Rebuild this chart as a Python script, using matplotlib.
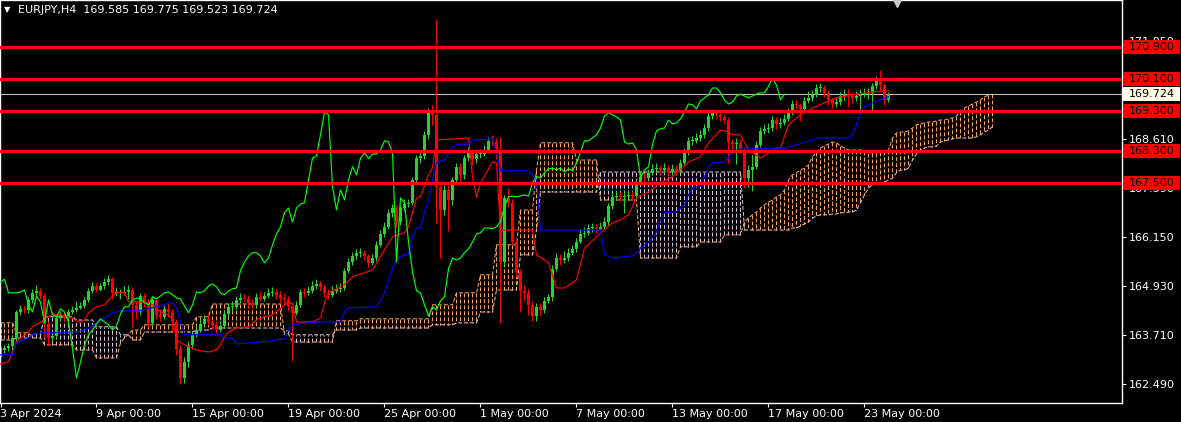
import numpy as np
import matplotlib
matplotlib.use("Agg")
import matplotlib.pyplot as plt
from matplotlib.patches import Rectangle
from matplotlib.transforms import blended_transform_factory

# EURJPY H4 with Ichimoku, 3 Apr - 23 May 2024
symbol = "EURJPY,H4"
last_bar = [169.585, 169.775, 169.523, 169.724]   # O H L C of the current bar
first_open = 163.21

closes = [
    163.33, 163.38, 163.43, 163.63, 164.28, 164.36, 164.33, 164.58, 164.76, 164.81,
    164.68, 163.98, 163.63, 163.68, 164.13, 164.21, 164.13, 164.28, 164.33, 164.38,
    164.43, 164.58, 164.81, 164.93, 164.83, 164.93, 165.03, 165.10, 164.76, 164.76,
    164.76, 164.78, 164.83, 164.46, 164.28, 164.68, 164.53, 164.01, 164.58, 164.21,
    164.16, 164.36, 164.28, 164.03, 163.36, 162.63, 163.03, 163.46, 163.71, 163.83,
    163.98, 164.11, 164.03, 163.96, 163.83, 163.93, 164.23, 164.41, 164.41, 164.58,
    164.63, 164.61, 164.51, 164.46, 164.66, 164.61, 164.68, 164.76, 164.78, 164.71,
    164.63, 164.61, 164.43, 164.26, 164.46, 164.78, 164.76, 164.81, 164.93, 164.98,
    164.91, 164.76, 164.71, 164.81, 164.86, 164.88, 165.31, 165.53, 165.68, 165.76,
    165.76, 165.68, 165.51, 165.63, 165.96, 166.23, 166.41, 166.76, 166.88, 166.53,
    166.88, 166.98, 167.01, 167.58, 168.13, 168.18, 168.71, 169.28, 169.21, 167.41,
    166.83, 167.33, 167.08, 167.58, 167.91, 167.71, 168.13, 168.26, 168.11, 168.23,
    168.23, 168.33, 168.56, 168.53, 168.26, 165.53, 167.13, 167.01, 166.03, 165.28,
    164.81, 164.76, 164.46, 164.18, 164.41, 164.33, 164.56, 164.66, 165.36, 165.63,
    165.58, 165.63, 165.76, 165.86, 166.03, 166.23, 166.26, 166.38, 166.38, 166.36,
    166.41, 166.53, 166.93, 167.16, 167.18, 167.16, 167.18, 167.21, 167.18, 167.51,
    167.66, 167.63, 167.76, 167.86, 167.88, 167.83, 167.88, 167.78, 167.86, 167.81,
    168.01, 168.28, 168.56, 168.56, 168.63, 168.71, 168.88, 169.18, 169.26, 169.21,
    169.16, 169.08, 168.53, 168.48, 168.51, 168.33, 167.63, 167.83, 167.91, 168.46,
    168.81, 168.86, 168.88, 169.08, 168.98, 169.01, 169.11, 169.28, 169.48, 169.46,
    169.36, 169.56, 169.63, 169.71, 169.88, 169.88, 169.76, 169.58, 169.48, 169.53,
    169.68, 169.73, 169.68, 169.63, 169.68, 169.73, 169.76, 169.76, 169.92, 170.12,
    169.95, 169.585, 169.724,
]

highs = [
    163.40, 163.45, 163.50, 163.70, 164.33, 164.45, 164.42, 164.65, 164.85, 164.95,
    164.88, 164.75, 164.05, 163.80, 164.20, 164.30, 164.28, 164.35, 164.42, 164.55,
    164.52, 164.65, 164.88, 165.02, 165.00, 165.00, 165.12, 165.20, 165.15, 164.90,
    164.85, 164.92, 164.95, 164.90, 164.55, 164.75, 164.75, 164.60, 164.65, 164.62,
    164.35, 164.45, 164.48, 164.35, 164.10, 163.45, 163.15, 163.55, 163.80, 163.92,
    164.10, 164.20, 164.25, 164.10, 164.05, 164.05, 164.30, 164.50, 164.55, 164.68,
    164.75, 164.72, 164.70, 164.60, 164.75, 164.80, 164.78, 164.88, 164.90, 164.85,
    164.80, 164.75, 164.68, 164.50, 164.55, 164.85, 164.88, 164.92, 165.05, 165.10,
    165.05, 164.98, 164.85, 164.92, 164.98, 165.00, 165.38, 165.62, 165.78, 165.85,
    165.88, 165.82, 165.72, 165.72, 166.05, 166.32, 166.52, 166.85, 166.98, 166.95,
    166.95, 167.10, 167.10, 167.65, 168.20, 168.30, 168.80, 169.38, 169.45, 171.60,
    167.50, 167.45, 167.45, 167.65, 168.00, 168.00, 168.20, 168.40, 168.35, 168.35,
    168.35, 168.45, 168.65, 168.70, 168.62, 168.65, 167.20, 167.38, 167.10, 166.10,
    165.35, 164.95, 164.85, 164.55, 164.50, 164.50, 164.65, 164.72, 165.45, 165.75,
    165.72, 165.80, 165.88, 165.95, 166.12, 166.35, 166.40, 166.48, 166.50, 166.48,
    166.52, 166.65, 167.00, 167.25, 167.30, 167.28, 167.30, 167.32, 167.30, 167.60,
    167.78, 167.75, 167.85, 167.98, 168.00, 167.95, 168.00, 167.95, 167.98, 167.95,
    168.10, 168.38, 168.65, 168.68, 168.75, 168.82, 168.98, 169.28, 169.35, 169.32,
    169.28, 169.22, 169.15, 168.60, 168.62, 168.60, 168.40, 167.95, 168.20, 168.55,
    168.90, 168.98, 169.00, 169.18, 169.15, 169.12, 169.22, 169.38, 169.58, 169.58,
    169.50, 169.65, 169.80, 169.82, 169.98, 170.00, 169.95, 169.82, 169.62, 169.65,
    169.78, 169.85, 169.85, 169.78, 169.80, 169.85, 169.88, 169.88, 170.00, 170.18,
    170.33, 170.00, 169.775,
]

lows = [
    163.15, 163.25, 163.30, 163.20, 163.55, 164.20, 164.25, 164.25, 164.50, 164.70,
    164.60, 163.62, 163.45, 163.55, 163.60, 164.05, 164.05, 164.08, 164.22, 164.28,
    164.35, 164.38, 164.52, 164.75, 164.78, 164.80, 164.85, 164.95, 164.60, 164.68,
    164.60, 164.70, 164.60, 163.90, 164.10, 164.20, 164.40, 163.90, 163.95, 164.10,
    164.05, 164.10, 164.15, 163.80, 163.20, 162.48, 162.50, 162.90, 163.35, 163.65,
    163.78, 163.90, 163.95, 163.85, 163.75, 163.78, 163.88, 164.15, 164.30, 164.35,
    164.50, 164.52, 164.40, 164.35, 164.40, 164.55, 164.55, 164.62, 164.68, 164.60,
    164.50, 164.45, 164.30, 163.05, 164.20, 164.40, 164.65, 164.70, 164.75, 164.85,
    164.80, 164.65, 164.60, 164.65, 164.75, 164.78, 164.82, 165.25, 165.45, 165.60,
    165.65, 165.58, 165.40, 165.45, 165.55, 165.90, 166.15, 166.35, 166.65, 166.40,
    166.45, 166.80, 166.90, 166.95, 167.50, 168.00, 168.10, 168.60, 168.95, 166.50,
    165.63, 166.70, 166.30, 166.95, 167.50, 167.50, 167.60, 168.05, 167.95, 168.00,
    168.12, 168.18, 168.25, 168.45, 168.10, 164.00, 165.40, 166.90, 165.95, 165.15,
    164.28, 164.55, 164.20, 164.05, 164.05, 164.20, 164.25, 164.50, 164.55, 165.30,
    165.45, 165.50, 165.55, 165.70, 165.78, 166.00, 166.15, 166.20, 166.28, 166.25,
    166.30, 166.35, 166.45, 166.85, 167.08, 167.05, 166.76, 167.10, 167.08, 167.10,
    167.45, 167.52, 167.58, 167.70, 167.78, 167.72, 167.75, 167.68, 167.70, 167.70,
    167.75, 167.95, 168.20, 168.45, 168.50, 168.55, 168.62, 168.80, 169.10, 169.10,
    169.05, 168.98, 168.00, 168.35, 167.98, 168.25, 167.38, 167.40, 167.30, 167.85,
    168.40, 168.72, 168.75, 168.80, 168.85, 168.88, 168.95, 169.05, 169.20, 169.35,
    169.05, 169.30, 169.50, 169.55, 169.65, 169.78, 169.65, 169.45, 169.38, 169.40,
    169.45, 169.55, 169.40, 169.50, 169.55, 169.30, 169.65, 169.60, 169.30, 169.85,
    169.80, 169.45, 169.523,
]

# Tenkan-sen / Kijun-sen, read at the corners of the step lines (bar, price)
tenkan = [
    (0, 162.98), (2, 163.03), (3, 163.28), (4, 163.53), (5, 163.63), (7, 163.78),
    (8, 163.91), (10, 164.03), (12, 164.16), (13, 164.21), (15, 164.21), (17, 164.16),
    (18, 164.11), (20, 164.01), (21, 164.08), (22, 164.26), (24, 164.41), (26, 164.46),
    (27, 164.58), (28, 164.68), (29, 164.76), (31, 164.76), (32, 164.53), (36, 164.53),
    (38, 164.46), (40, 164.28), (42, 164.21), (43, 164.08), (44, 163.58), (46, 163.46),
    (49, 163.33), (52, 163.28), (54, 163.33), (55, 163.46), (56, 163.66), (57, 163.78),
    (59, 163.88), (62, 163.91), (64, 164.08), (66, 164.16), (68, 164.21), (70, 164.38),
    (72, 164.53), (73, 164.48), (74, 164.03), (78, 164.03), (80, 164.13), (81, 164.51),
    (82, 164.76), (86, 164.96), (88, 165.16), (93, 165.33), (96, 165.83), (98, 166.16),
    (101, 166.26), (102, 166.41), (104, 167.13), (105, 167.16), (107, 167.71),
    (108, 167.88), (109, 168.58), (117, 168.63), (118, 167.66), (119, 167.16),
    (120, 167.51), (123, 168.03), (124, 168.01), (125, 166.33), (133, 166.33),
    (134, 165.71), (137, 165.51), (139, 164.88), (141, 164.88), (144, 165.08),
    (146, 165.88), (149, 166.16), (153, 166.51), (155, 166.58), (157, 166.71),
    (159, 167.13), (162, 167.28), (165, 167.51), (168, 167.66), (172, 168.03),
    (175, 168.16), (177, 168.51), (180, 168.83), (182, 168.78), (183, 168.71),
    (185, 168.71), (187, 168.33), (190, 168.13), (194, 168.38), (195, 168.38),
    (197, 168.96), (200, 169.21), (203, 169.38), (206, 169.51), (209, 169.63),
    (213, 169.71), (218, 169.78), (222, 169.81),
]

kijun = [
    (0, 163.21), (3, 163.21), (4, 163.51), (7, 163.63), (8, 163.71), (10, 163.76),
    (19, 163.78), (22, 163.86), (24, 164.01), (28, 164.26), (30, 164.31), (35, 164.31),
    (41, 164.46), (42, 164.51), (43, 164.51), (44, 164.38), (45, 164.03), (46, 163.71),
    (55, 163.71), (56, 163.63), (58, 163.63), (59, 163.48), (68, 163.56), (71, 163.61),
    (72, 163.83), (73, 163.96), (79, 164.03), (85, 164.03), (86, 164.28), (87, 164.38),
    (94, 164.41), (96, 164.76), (97, 165.08), (99, 165.63), (102, 165.73), (103, 166.16),
    (104, 166.38), (105, 166.38), (106, 166.76), (107, 167.08), (108, 167.58),
    (109, 168.01), (111, 168.08), (113, 168.41), (114, 168.46), (117, 168.46),
    (118, 168.58), (123, 168.61), (124, 168.26), (125, 167.81), (132, 167.81),
    (134, 167.58), (135, 166.33), (150, 166.33), (151, 165.71), (153, 165.63),
    (158, 165.68), (161, 165.96), (162, 166.01), (164, 166.28), (165, 166.58),
    (166, 166.76), (169, 166.78), (171, 166.96), (172, 167.21), (173, 167.38),
    (175, 167.43), (176, 167.66), (177, 167.91), (178, 168.01), (181, 168.03),
    (183, 168.26), (185, 168.36), (196, 168.36), (199, 168.46), (203, 168.58),
    (204, 168.63), (212, 168.63), (213, 168.71), (214, 168.96), (215, 169.26),
    (216, 169.41), (218, 169.51), (221, 169.63), (222, 169.66),
]

# Senkou span A / B, one value per bar (the cloud runs 26 bars past the last candle)
span_a = [
    164.01, 164.01, 164.01, 164.01, 163.76, 163.76, 163.76, 163.76, 163.63, 163.63,
    163.63, 163.46, 163.46, 163.46, 163.46, 163.46, 163.46, 163.46, 163.46, 163.33,
    163.33, 163.33, 163.33, 163.33, 163.13, 163.13, 163.13, 163.13, 163.13, 163.13,
    163.51, 163.63, 163.73, 163.83, 163.83, 163.83, 163.96, 163.96, 163.96, 163.96,
    163.96, 163.96, 163.96, 163.96, 163.96, 163.96, 163.96, 163.96, 163.96, 164.16,
    164.16, 164.16, 164.16, 164.48, 164.48, 164.48, 164.48, 164.48, 164.48, 164.48,
    164.48, 164.48, 164.48, 164.48, 164.48, 164.48, 164.48, 164.48, 164.48, 164.48,
    164.48, 163.73, 163.73, 163.53, 163.53, 163.53, 163.53, 163.53, 163.53, 163.53,
    163.53, 163.53, 163.53, 163.53, 164.06, 164.06, 164.06, 164.06, 164.06, 164.06,
    164.11, 164.11, 164.11, 164.11, 164.11, 164.11, 164.11, 164.11, 164.11, 164.11,
    164.11, 164.11, 164.11, 164.11, 164.11, 164.11, 164.11, 164.11, 164.46, 164.46,
    164.46, 164.46, 164.46, 164.46, 164.76, 164.76, 164.76, 164.76, 164.76, 164.76,
    165.21, 165.21, 165.21, 165.21, 165.96, 165.96, 165.96, 165.96, 165.96, 165.96,
    166.83, 166.83, 166.83, 166.83, 167.83, 168.51, 168.51, 168.51, 168.51, 168.51,
    168.51, 168.51, 168.51, 168.51, 168.08, 168.08, 168.08, 168.08, 168.08, 168.08,
    167.08, 167.08, 167.08, 167.08, 167.08, 167.08, 167.08, 167.08, 167.08, 167.08,
    165.63, 165.63, 165.63, 165.63, 165.63, 165.63, 165.63, 165.63, 165.63, 165.63,
    165.91, 165.91, 165.91, 165.91, 165.91, 166.03, 166.03, 166.03, 166.03, 166.03,
    166.03, 166.21, 166.21, 166.21, 166.21, 166.21, 166.53, 166.63, 166.71, 166.78,
    166.88, 166.96, 167.03, 167.08, 167.16, 167.21, 167.33, 167.58, 167.71, 167.76,
    167.83, 167.88, 167.96, 168.16, 168.28, 168.38, 168.43, 168.48, 168.53, 168.51,
    168.43, 168.38, 168.33, 168.33, 168.33, 168.33, 168.31, 168.26, 168.26, 168.26,
    168.28, 168.31, 168.33, 168.63, 168.76, 168.78, 168.78, 168.81, 168.88, 168.96,
    168.98, 169.01, 169.03, 169.03, 169.06, 169.08, 169.08, 169.11, 169.13, 169.18,
    169.31, 169.38, 169.43, 169.48, 169.53, 169.58, 169.66, 169.70, 169.73,
]

span_b = [
    163.58, 163.58, 163.58, 163.58, 163.63, 163.63, 163.63, 163.63, 163.73, 163.73,
    163.73, 164.16, 164.16, 164.16, 164.16, 164.16, 164.16, 164.16, 164.16, 164.08,
    164.08, 164.08, 164.08, 164.08, 163.91, 163.91, 163.91, 163.91, 163.91, 163.91,
    163.71, 163.71, 163.71, 163.58, 163.58, 163.58, 163.78, 163.78, 163.78, 163.78,
    163.78, 163.78, 163.78, 163.78, 163.78, 163.78, 163.78, 163.78, 163.78, 163.83,
    163.83, 163.83, 163.83, 163.88, 163.88, 163.88, 163.88, 163.88, 163.88, 163.88,
    163.88, 163.88, 163.88, 163.88, 163.88, 163.88, 163.88, 163.88, 163.88, 163.88,
    163.88, 163.81, 163.81, 163.71, 163.71, 163.71, 163.71, 163.71, 163.71, 163.71,
    163.71, 163.71, 163.71, 163.71, 163.83, 163.83, 163.83, 163.83, 163.83, 163.83,
    163.88, 163.88, 163.88, 163.88, 163.88, 163.88, 163.88, 163.88, 163.88, 163.88,
    163.88, 163.88, 163.88, 163.88, 163.88, 163.88, 163.88, 163.88, 163.96, 163.96,
    163.96, 163.96, 163.96, 163.96, 164.01, 164.01, 164.01, 164.01, 164.01, 164.01,
    164.28, 164.28, 164.28, 164.28, 164.83, 164.83, 164.83, 164.83, 164.83, 164.83,
    165.71, 165.71, 165.71, 165.71, 166.33, 167.28, 167.28, 167.28, 167.28, 167.28,
    167.28, 167.28, 167.28, 167.28, 167.28, 167.28, 167.28, 167.28, 167.28, 167.28,
    167.78, 167.78, 167.78, 167.78, 167.78, 167.78, 167.78, 167.78, 167.78, 167.78,
    167.78, 167.78, 167.78, 167.78, 167.78, 167.78, 167.78, 167.78, 167.78, 167.78,
    167.78, 167.78, 167.78, 167.78, 167.78, 167.78, 167.78, 167.78, 167.78, 167.78,
    167.78, 167.78, 167.78, 167.78, 167.78, 167.78, 166.33, 166.33, 166.33, 166.33,
    166.33, 166.33, 166.33, 166.33, 166.33, 166.33, 166.33, 166.33, 166.38, 166.38,
    166.43, 166.48, 166.53, 166.63, 166.68, 166.71, 166.71, 166.71, 166.73, 166.73,
    166.76, 166.76, 166.78, 166.78, 166.83, 167.01, 167.21, 167.38, 167.46, 167.48,
    167.51, 167.53, 167.58, 167.63, 167.76, 167.83, 167.83, 167.88, 168.08, 168.23,
    168.33, 168.38, 168.41, 168.41, 168.43, 168.53, 168.56, 168.58, 168.61, 168.63,
    168.63, 168.63, 168.63, 168.63, 168.66, 168.71, 168.78, 168.83, 168.91,
]

chikou_shift = 26

levels = [170.900, 170.100, 169.300, 168.300, 167.500]
price_ticks = [171.050, 169.830, 168.610, 167.390, 166.150, 164.930, 163.710, 162.490]
hidden_ticks = [169.830]   # sits fully under the current-price box
date_ticks = [0, 24, 48, 72, 96, 120, 144, 168, 192, 216]
date_labels = ["3 Apr 2024", "9 Apr 00:00", "15 Apr 00:00", "19 Apr 00:00",
               "25 Apr 00:00", "1 May 00:00", "7 May 00:00", "13 May 00:00",
               "17 May 00:00", "23 May 00:00"]

BULL = "#32CD32"
BEAR = "#FF0000"
SANDY = "#F4A460"
THISTLE = "#D8BFD8"
FG = "#FFFFFF"

closes = np.array(closes)
highs = np.array(highs)
lows = np.array(lows)
opens = np.r_[first_open, closes[:-1]]
idx = np.arange(len(closes))
span_a = np.array(span_a)
span_b = np.array(span_b)
cidx = np.arange(len(span_a))

W, H = 1181, 422
fig = plt.figure(figsize=(W / 100, H / 100), dpi=100, facecolor="black")
ax = fig.add_axes([0, 19 / H, 1122 / W, 403 / H], facecolor="black")
ax.set_xlim(-0.125, 280.375)
ax.set_ylim(162.005, 172.08)

# cloud: dotted vertical hatching between the spans
cloud_col = [SANDY if a >= b else THISTLE for a, b in zip(span_a, span_b)]
ax.vlines(cidx, span_a, span_b, colors=cloud_col, lw=0.75,
          linestyles=(0, (3.8, 1.9)), zorder=1)
ax.plot(cidx, span_a, color=SANDY, lw=0.75, ls=(0, (3.8, 1.9)), zorder=1.1)
ax.plot(cidx, span_b, color=THISTLE, lw=0.75, ls=(0, (3.8, 1.9)), zorder=1.1)

# current price line
ax.axhline(last_bar[3], color="#C0C0C0", lw=0.8, zorder=1.2)

# candles
up = closes >= opens
col = np.where(up, BULL, BEAR)
ax.vlines(idx, lows, highs, colors=col, lw=0.75, zorder=2)
body = np.maximum(np.abs(closes - opens), 0.015)
ax.bar(idx, body, bottom=np.minimum(opens, closes), width=0.75,
       color=col, linewidth=0, zorder=2.1)

# ichimoku lines
tb, tv = zip(*tenkan)
kb, kv = zip(*kijun)
ax.plot(tb, tv, color="#FF0000", lw=0.85, zorder=3)
ax.plot(kb, kv, color="#0000FF", lw=0.85, zorder=3)
ax.plot(idx[chikou_shift:] - chikou_shift, closes[chikou_shift:],
        color="#00FF00", lw=0.85, zorder=3)

# horizontal levels
for lv in levels:
    ax.axhline(lv, color="#FF0000", lw=2.2, zorder=4)

# axes styling
for s in ax.spines.values():
    s.set_color(FG)
    s.set_linewidth(1)
ax.yaxis.tick_right()
ax.set_yticks(price_ticks,
              labels=["" if p in hidden_ticks else f"{p:.3f}" for p in price_ticks])
ax.set_xticks(date_ticks, labels=date_labels)
for lb in ax.get_xticklabels():
    lb.set_horizontalalignment("left")
ax.tick_params(axis="y", colors=FG, length=3, width=0.8, pad=2, labelsize=8)
ax.tick_params(axis="x", colors=FG, length=3, width=0.8, pad=1.5, labelsize=8)

# price boxes on the scale
tr = blended_transform_factory(ax.transAxes, ax.transData)
box_h = 0.35
for lv in levels:
    ax.add_patch(Rectangle((1123 / 1122, lv - box_h / 2), 57 / 1122, box_h,
                           transform=tr, fc="#FF0000", ec="none",
                           clip_on=False, zorder=9))
    ax.text(1129 / 1122, lv, f"{lv:.3f}", transform=tr, ha="left", va="center",
            fontsize=8, color="black", clip_on=False, zorder=10)
ax.add_patch(Rectangle((1123 / 1122, last_bar[3] - box_h / 2), 57 / 1122, box_h,
                       transform=tr, fc="#FFFDE8", ec="none",
                       clip_on=False, zorder=9))
ax.text(1129 / 1122, last_bar[3], f"{last_bar[3]:.3f}", transform=tr, ha="left",
        va="center", fontsize=8, color="black", clip_on=False, zorder=10)

# chart shift marker at the top
ax.plot([224.1], [172.0], marker="v", ms=6, color="#C8C8C8", clip_on=False, zorder=10)

# header
fig.text(4 / W, 1 - 10 / H, "\u25BC", color=FG, fontsize=6, va="center", ha="left")
fig.text(18 / W, 1 - 10 / H,
         f"{symbol}  " + " ".join(f"{v:.3f}" for v in last_bar),
         color=FG, fontsize=8, va="center", ha="left")

fig.savefig("out.png", dpi=100, facecolor="black")
